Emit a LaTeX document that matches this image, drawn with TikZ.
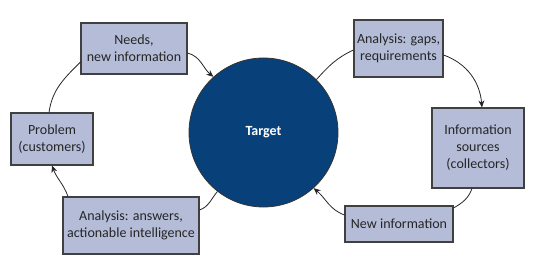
\documentclass[tikz,border=0pt]{standalone}
\usepackage{fontspec}
\setmainfont{Carlito}
\usetikzlibrary{arrows.meta}
\definecolor{boxfill}{RGB}{180,188,216}
\definecolor{boxedge}{RGB}{64,64,64}
\definecolor{navy}{RGB}{8,64,122}
\tikzset{
  stepbox/.style={draw=boxedge, line width=1.1pt, fill=boxfill, align=center,
    font=\fontsize{14}{17}\selectfont, inner sep=0pt, text=black!85},
  link/.style={draw=black!85, line width=0.8pt},
  arr/.style={link, -{Stealth[length=7pt,width=6pt]}},
}
\begin{document}
\begin{tikzpicture}[x=1pt,y=1pt]
\useasboundingbox (0,0) rectangle (538,280);
\node[circle, draw=black!80, line width=0.8pt, fill=navy, minimum size=149pt, inner sep=0pt,
  text=white, font=\fontsize{14}{16}\selectfont\bfseries] (target) at (263.5,147.5) {Target};
\node[stepbox, minimum width=106pt, minimum height=51pt] (needs) at (134,231.5) {Needs,\\new information};
\node[stepbox, minimum width=82pt, minimum height=52pt] (problem) at (52,141) {Problem\\(customers)};
\node[stepbox, minimum width=136pt, minimum height=57pt] (answers) at (131,54.5) {Analysis: answers,\\actionable intelligence};
\node[stepbox, minimum width=89pt, minimum height=57pt] (gaps) at (398.5,231.5) {Analysis: gaps,\\requirements};
\node[stepbox, minimum width=92pt, minimum height=80pt] (info) at (478,132) {Information\\sources\\(collectors)};
\node[stepbox, minimum width=108pt, minimum height=36pt] (newinfo) at (399,56) {New information};

\draw[link] ([xshift=-3pt]problem.north) to[out=82,in=225] ([yshift=-13.5pt]needs.west);
\draw[arr] ([yshift=-4.5pt]needs.east) to[out=-15,in=140] (target.132);
\draw[link] (target.45) to[out=48,in=205] ([yshift=-1.5pt]gaps.west);
\draw[arr] ([yshift=-6.5pt]gaps.east) to[out=-20,in=95] ([xshift=4pt]info.north);
\draw[link] ([xshift=-6pt]info.south) to[out=-110,in=30] ([yshift=16pt]newinfo.east);
\draw[arr] ([yshift=9pt]newinfo.west) to[out=160,in=-40] (target.-48);
\draw[link] (target.232) to[out=-130,in=20] ([yshift=15.5pt]answers.east);
\draw[arr] ([xshift=-63pt]answers.north) to[out=110,in=-70] (problem.south);
\end{tikzpicture}
\end{document}
